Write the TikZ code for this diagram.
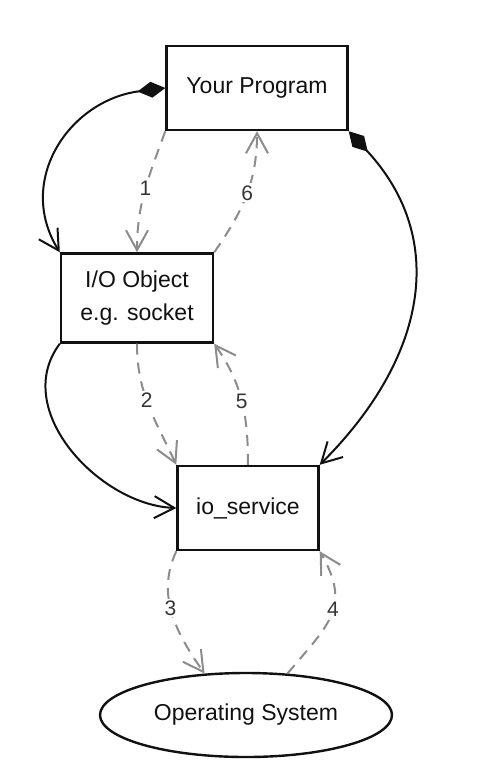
\documentclass[tikz,border=0pt]{standalone}
\usepackage{fontspec}
\setmainfont{Liberation Sans}
\usepackage{xcolor}
\usepackage{tikz}
\usetikzlibrary{arrows.meta,shapes.geometric}
\definecolor{ink}{HTML}{111111}
\definecolor{callgray}{HTML}{8C8C8C}
\tikzset{
  font=\fontsize{11.5}{16.5}\selectfont,
  box/.style={
    rectangle, draw=ink, line width=1.2pt, fill=white, text=ink,
    align=center, inner sep=0pt
  },
  osnode/.style={
    ellipse, draw=ink, line width=1.2pt, fill=white, text=ink,
    inner sep=0pt, minimum width=146pt, minimum height=42pt
  },
  owns/.style={
    {Diamond[length=14pt,width=8pt]}-{Straight Barb[length=10pt,width=11pt]},
    line width=1pt, draw=ink
  },
  uses/.style={-{Straight Barb[length=10pt,width=11pt]}, line width=1pt, draw=ink},
  callflow/.style={
    -{Straight Barb[length=10pt,width=11pt]}, line width=1pt, draw=callgray,
    dash pattern=on 5.5pt off 4pt
  },
  num/.style={font=\fontsize{10.5}{12}\selectfont, text=ink!85, fill=white, inner sep=1pt}
}

\begin{document}
\begin{tikzpicture}[x=0.5pt,y=0.5pt]
  \useasboundingbox (0,0) rectangle (489,-764);

  \node[box, minimum width=90.5pt, minimum height=42pt]   (prog) at (257,-88)  {Your Program};
  \node[box, minimum width=76pt,   minimum height=44.5pt] (io)   at (137,-298) {I/O Object\\e.g. socket};
  \node[box, minimum width=70.5pt, minimum height=42pt]   (svc)  at (248,-508) {io\_service};
  \node[osnode] (os) at (246,-715) {Operating System};

  % solid links
  \draw[owns] (prog.west) .. controls (70,-100) and (15,-180) .. (io.north west);
  \draw[owns] (prog.south east) .. controls (450,-240) and (425,-360) .. (svc.north east);
  \draw[uses] (io.south west) .. controls (10,-410) and (100,-505) .. (svc.west);

  % numbered calls
  \draw[callflow] (prog.south west) to[out=-110,in=90] node[num, pos=0.48] {1} (io.north);
  \draw[callflow] (io.south) to[out=-90,in=115] node[num, pos=0.45] {2} (svc.north west);
  \draw[callflow] (svc.south west) to[out=-115,in=125] node[num, pos=0.45] {3} (os.135);
  \draw[callflow] (os.45) to[out=50,in=-60,looseness=1.3] node[num, pos=0.55] {4} (svc.south east);
  \draw[callflow] (svc.north) to[out=90,in=-55] node[num, pos=0.5] {5} (io.south east);
  \draw[callflow] (io.north east) to[out=55,in=-90] node[num, pos=0.52] {6} (prog.south);
\end{tikzpicture}
\end{document}
